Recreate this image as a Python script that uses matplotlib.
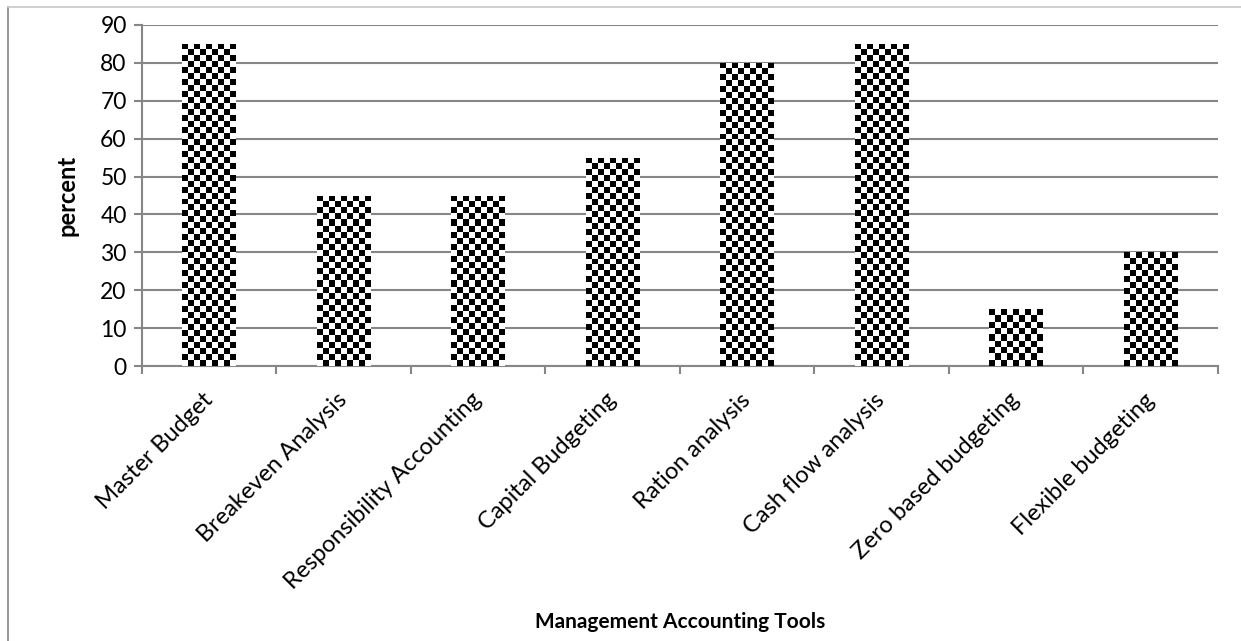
import numpy as np
import matplotlib.pyplot as plt
from matplotlib.lines import Line2D

tools = ['Master Budget', 'Breakeven Analysis', 'Responsibility Accounting',
         'Capital Budgeting', 'Ration analysis', 'Cash flow analysis',
         'Zero based budgeting', 'Flexible budgeting']
percent = [85, 45, 45, 55, 80, 85, 15, 30]

plt.rcParams['font.family'] = ['Lato', 'DejaVu Sans']
grey = '#868686'

fig = plt.figure(figsize=(12.41, 6.41), dpi=100)
ax = fig.add_axes([0.1144, 0.429, 0.867, 0.532])

x = np.arange(len(tools))
bars = ax.bar(x, percent, width=0.4, color='white', edgecolor='none', zorder=2)

# checkerboard fill, about 6 px squares
sq_x = 6 / 134.3
sq_y = 6 / 3.79
for b in bars:
    x0, w, h = b.get_x(), b.get_width(), b.get_height()
    nc = max(1, int(round(w / sq_x)))
    nr = max(1, int(round(h / sq_y)))
    board = (np.add.outer(np.arange(nr), np.arange(nc)) % 2).astype(float)
    im = ax.imshow(board, cmap='gray', vmin=0, vmax=1, interpolation='nearest',
                   extent=(x0, x0 + w, 0, h), aspect='auto', zorder=3)
    im.set_clip_path(b)
ax.set_aspect('auto')
ax.set_xlim(-0.5, len(tools) - 0.5)
ax.set_ylim(0, 90)

ax.set_yticks(range(0, 91, 10))
ax.yaxis.grid(True, color=grey, linewidth=1.5, zorder=1)
ax.set_axisbelow(True)
for s in ['top', 'right']:
    ax.spines[s].set_visible(False)
for s in ['left', 'bottom']:
    ax.spines[s].set_color(grey)
    ax.spines[s].set_linewidth(1.5)

ax.set_xticks(x)
ax.set_xticklabels(tools, rotation=45, ha='right', va='center', rotation_mode='anchor')
ax.set_xticks(np.arange(len(tools) + 1) - 0.5, minor=True)
ax.tick_params(axis='x', which='major', length=0, pad=22, labelsize=17)
ax.tick_params(axis='x', which='minor', length=6, width=1.5, color=grey)
ax.tick_params(axis='y', length=6, width=1.5, color=grey, labelsize=16.5, pad=5)

fig.text(0.054, 0.695, 'percent', rotation=90, ha='center', va='center',
         fontsize=17, fontweight='bold')
fig.text(0.548, 0.03, 'Management Accounting Tools', ha='center', va='center',
         fontsize=15, fontweight='bold')

# chart area border (left and top visible)
fig.add_artist(Line2D([7.5 / 1241, 7.5 / 1241], [0, 1 - 7 / 641],
                      transform=fig.transFigure, color=grey, linewidth=1.2))
fig.add_artist(Line2D([7.5 / 1241, 1], [1 - 7 / 641, 1 - 7 / 641],
                      transform=fig.transFigure, color='#c8c8c8', linewidth=1.2))

fig.savefig('out.png', dpi=100)
